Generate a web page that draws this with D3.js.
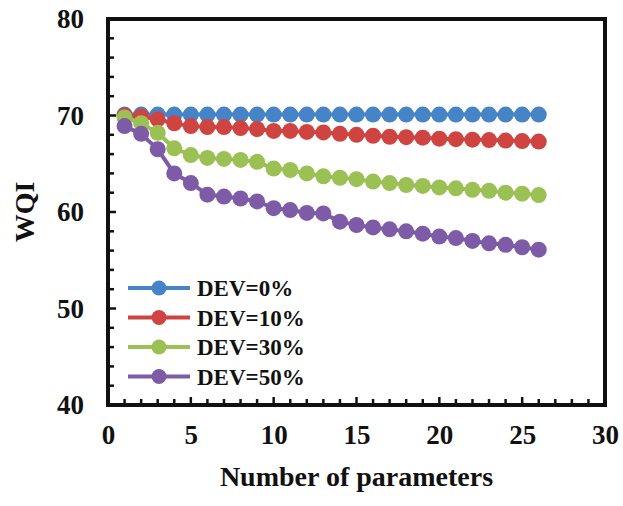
<!DOCTYPE html>
<html>
<head>
<meta charset="utf-8">
<script src="https://cdn.jsdelivr.net/npm/d3@7"></script>
<style>
  html, body { margin: 0; padding: 0; background: #fff; }
  svg { display: block; }
  text { font-family: "Liberation Serif", "Times New Roman", serif; font-weight: bold; fill: #111; }
</style>
</head>
<body>
<svg id="chart" width="623" height="506"></svg>
<script>
// Number of parameters included in the index
const params = d3.range(1, 27);

// WQI for each deviation level
const dev0  = [70.1,70.1,70.1,70.1,70.1,70.1,70.1,70.1,70.1,70.1,70.1,70.1,70.1,70.1,70.1,70.1,70.1,70.1,70.1,70.1,70.1,70.1,70.1,70.1,70.1,70.1];
const dev10 = [70.0,69.9,69.6,69.2,68.9,68.8,68.8,68.7,68.6,68.4,68.4,68.3,68.25,68.1,68.0,67.9,67.8,67.75,67.7,67.6,67.55,67.5,67.45,67.4,67.35,67.3];
const dev30 = [69.8,69.2,68.2,66.6,65.9,65.6,65.5,65.4,65.2,64.5,64.35,64.0,63.7,63.55,63.4,63.15,63.0,62.8,62.7,62.55,62.45,62.3,62.2,62.0,61.9,61.75];
const dev50 = [68.9,68.1,66.5,64.0,63.0,61.8,61.6,61.4,61.1,60.4,60.2,59.9,59.85,59.0,58.65,58.4,58.2,58.0,57.75,57.45,57.3,57.0,56.75,56.6,56.35,56.1];

const seriesNames  = ["DEV=0%", "DEV=10%", "DEV=30%", "DEV=50%"];
const seriesValues = [dev0, dev10, dev30, dev50];
const seriesColors = ["#4684C8", "#CF4440", "#9BC155", "#7E5BA7"];

const xTicks = [0, 5, 10, 15, 20, 25, 30];
const yTicks = [40, 50, 60, 70, 80];

const svg = d3.select("#chart");
const plot = { left: 108, right: 605, top: 19, bottom: 405 };

const x = d3.scaleLinear().domain([0, 30]).range([plot.left, plot.right]);
const y = d3.scaleLinear().domain([40, 80]).range([plot.bottom, plot.top]);

// Inward tick marks: minor every 1 (x) / 2 (y), longer at labelled values
const g = svg.append("g");
g.selectAll("line.xminor")
  .data(d3.range(1, 30).filter(v => v % 5 !== 0))
  .join("line")
  .attr("x1", d => x(d)).attr("x2", d => x(d))
  .attr("y1", plot.bottom).attr("y2", plot.bottom - 6)
  .attr("stroke", "#111").attr("stroke-width", 2.5);
g.selectAll("line.xmajor")
  .data(xTicks.slice(1, -1))
  .join("line")
  .attr("x1", d => x(d)).attr("x2", d => x(d))
  .attr("y1", plot.bottom).attr("y2", plot.bottom - 8)
  .attr("stroke", "#111").attr("stroke-width", 2.5);
g.selectAll("line.yminor")
  .data(d3.range(42, 80, 2).filter(v => v % 10 !== 0))
  .join("line")
  .attr("x1", plot.left).attr("x2", plot.left + 6)
  .attr("y1", d => y(d)).attr("y2", d => y(d))
  .attr("stroke", "#111").attr("stroke-width", 2.5);
g.selectAll("line.ymajor")
  .data(yTicks.slice(1, -1))
  .join("line")
  .attr("x1", plot.left).attr("x2", plot.left + 8)
  .attr("y1", d => y(d)).attr("y2", d => y(d))
  .attr("stroke", "#111").attr("stroke-width", 2.5);

// Axis labels via d3 axes (lines hidden, labels only)
const xAxis = svg.append("g")
  .attr("transform", `translate(0,${plot.bottom})`)
  .call(d3.axisBottom(x).tickValues(xTicks).tickSize(0).tickPadding(20));
xAxis.select(".domain").remove();
xAxis.selectAll("text").attr("font-size", 27).attr("fill", "#111")
  .style("font-family", '"Liberation Serif", serif').style("font-weight", "bold");

const yAxis = svg.append("g")
  .attr("transform", `translate(${plot.left},0)`)
  .call(d3.axisLeft(y).tickValues(yTicks).tickSize(0).tickPadding(24));
yAxis.select(".domain").remove();
yAxis.selectAll("text").attr("font-size", 27).attr("fill", "#111")
  .style("font-family", '"Liberation Serif", serif').style("font-weight", "bold");

// Series: connecting line plus round markers
const line = d3.line().x((d, i) => x(params[i])).y(d => y(d));
seriesValues.forEach((vals, si) => {
  const s = svg.append("g");
  s.append("path")
    .datum(vals)
    .attr("d", line)
    .attr("fill", "none")
    .attr("stroke", seriesColors[si])
    .attr("stroke-width", 4);
  s.selectAll("circle")
    .data(vals)
    .join("circle")
    .attr("cx", (d, i) => x(params[i]))
    .attr("cy", d => y(d))
    .attr("r", 8)
    .attr("fill", seriesColors[si]);
});

// Frame
svg.append("rect")
  .attr("x", plot.left).attr("y", plot.top)
  .attr("width", plot.right - plot.left).attr("height", plot.bottom - plot.top)
  .attr("fill", "none").attr("stroke", "#111").attr("stroke-width", 4);

// Legend
const legend = svg.append("g").attr("transform", "translate(128,288)");
seriesNames.forEach((name, i) => {
  const row = legend.append("g").attr("transform", `translate(0,${i * 29.5})`);
  row.append("line").attr("x1", 0).attr("x2", 62).attr("y1", 0).attr("y2", 0)
    .attr("stroke", seriesColors[i]).attr("stroke-width", 4);
  row.append("circle").attr("cx", 31).attr("cy", 0).attr("r", 7.5).attr("fill", seriesColors[i]);
  row.append("text").attr("x", 69).attr("y", 0).attr("dy", "0.35em")
    .attr("font-size", 23).text(name);
});

// Axis titles
svg.append("text")
  .attr("x", (plot.left + plot.right) / 2)
  .attr("y", 486)
  .attr("text-anchor", "middle")
  .attr("font-size", 28)
  .text("Number of parameters");

svg.append("text")
  .attr("transform", `translate(34,${(plot.top + plot.bottom) / 2}) rotate(-90)`)
  .attr("text-anchor", "middle")
  .attr("font-size", 28)
  .text("WQI");
</script>
</body>
</html>
